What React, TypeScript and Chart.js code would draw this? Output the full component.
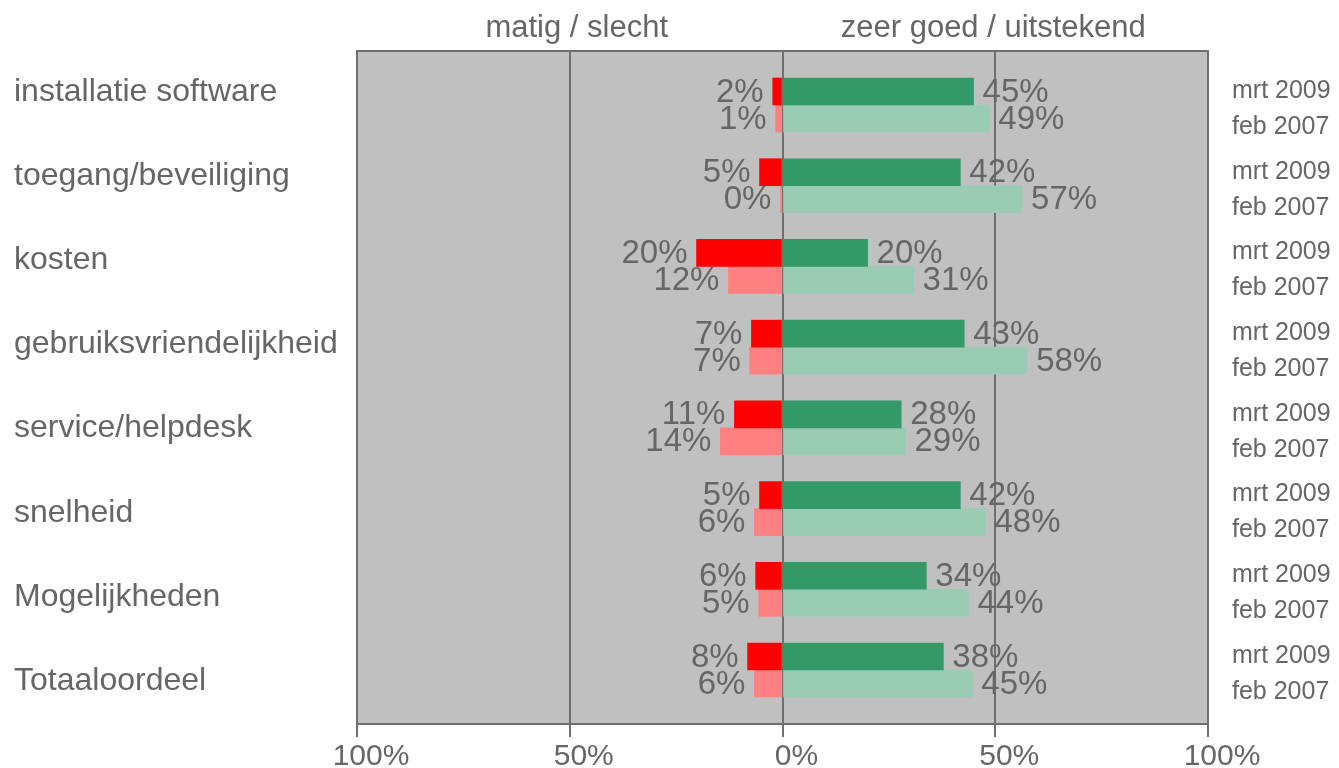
import React, { useEffect, useRef } from 'react';
import { Chart, registerables } from 'chart.js';

Chart.register(...registerables);

const categories = [
  'installatie software',
  'toegang/beveiliging',
  'kosten',
  'gebruiksvriendelijkheid',
  'service/helpdesk',
  'snelheid',
  'Mogelijkheden',
  'Totaaloordeel',
];
const periods = ['mrt 2009', 'feb 2007'];
const sideTitles = ['matig / slecht', 'zeer goed / uitstekend'];

// measured bar lengths (%)
const mrtBad = [2.3, 5.4, 20.2, 7.3, 11.3, 5.4, 6.3, 8.2];
const mrtGood = [44.9, 41.8, 20.0, 42.7, 27.9, 41.8, 33.8, 37.8];
const febBad = [1.6, 0.5, 12.7, 7.7, 14.6, 6.6, 5.6, 6.6];
const febGood = [48.6, 56.3, 30.8, 57.5, 28.9, 47.7, 43.7, 44.6];

// printed data labels (%)
const mrtBadLabels = [2, 5, 20, 7, 11, 5, 6, 8];
const mrtGoodLabels = [45, 42, 20, 43, 28, 42, 34, 38];
const febBadLabels = [1, 0, 12, 7, 14, 6, 5, 6];
const febGoodLabels = [49, 57, 31, 58, 29, 48, 44, 45];

const axisTicks = [-100, -50, 0, 50, 100];

const FONT = "'Liberation Sans', Arial, sans-serif";
const TEXT = '#666666';
const LINE = '#6f6f6f';
const Y_MIN = -0.669;
const Y_MAX = 7.669;

export default function App() {
  const ref = useRef<HTMLCanvasElement | null>(null);

  useEffect(() => {
    if (!ref.current) return;
    const mk = (vals: number[], neg: boolean) =>
      vals.map((v, i) => ({ x: neg ? -v : v, y: i }));

    const labelSets = [mrtBadLabels, mrtGoodLabels, febBadLabels, febGoodLabels];

    const overlay = {
      id: 'overlay',
      beforeDraw(chart: any) {
        const { ctx, chartArea: a } = chart;
        ctx.save();
        ctx.fillStyle = '#c0c0c0';
        ctx.fillRect(a.left, a.top, a.right - a.left, a.bottom - a.top);
        ctx.restore();
      },
      afterDraw(chart: any) {
        const { ctx, chartArea: a } = chart;
        const xs = chart.scales.x;
        const ys = chart.scales.y;
        ctx.save();
        ctx.strokeStyle = LINE;
        ctx.lineWidth = 2;
        ctx.strokeRect(a.left, a.top, a.right - a.left, a.bottom - a.top);

        // value labels
        ctx.fillStyle = TEXT;
        ctx.font = `33px ${FONT}`;
        ctx.textBaseline = 'middle';
        chart.data.datasets.forEach((ds: any, di: number) => {
          const meta = chart.getDatasetMeta(di);
          const neg = di % 2 === 0;
          meta.data.forEach((el: any, i: number) => {
            const txt = labelSets[di][i] + '%';
            ctx.textAlign = neg ? 'right' : 'left';
            ctx.fillText(txt, el.x + (neg ? -9 : 9), el.y + 1);
          });
        });

        // side titles
        ctx.font = `31px ${FONT}`;
        ctx.textAlign = 'center';
        ctx.fillText(sideTitles[0], xs.getPixelForValue(-50) + 7, 28);
        ctx.fillText(sideTitles[1], xs.getPixelForValue(50) - 2, 28);

        // period labels on the right
        ctx.font = `25px ${FONT}`;
        ctx.textAlign = 'left';
        categories.forEach((_, i) => {
          const c = ys.getPixelForValue(i);
          ctx.fillText(periods[0], a.right + 24, c - 14);
          ctx.fillText(periods[1], a.right + 24, c + 22);
        });
        ctx.restore();
      },
    };

    const chart = new Chart(ref.current, {
      type: 'bar',
      data: {
        datasets: [
          { label: periods[0], data: mk(mrtBad, true), backgroundColor: '#ff0000', stack: 'mrt' },
          { label: periods[0], data: mk(mrtGood, false), backgroundColor: '#339966', stack: 'mrt' },
          { label: periods[1], data: mk(febBad, true), backgroundColor: '#ff8080', stack: 'feb' },
          { label: periods[1], data: mk(febGood, false), backgroundColor: '#99ccb3', stack: 'feb' },
        ] as any,
      },
      options: {
        indexAxis: 'y',
        animation: false,
        responsive: false,
        barThickness: 27,
        layout: { padding: { top: 51, right: 131, bottom: 0, left: 14 } },
        plugins: { legend: { display: false }, tooltip: { enabled: false } },
        scales: {
          x: {
            type: 'linear',
            position: 'bottom',
            min: -100,
            max: 100,
            stacked: true,
            z: 1,
            afterBuildTicks: (s: any) => {
              s.ticks = axisTicks.map((v) => ({ value: v }));
            },
            afterFit: (s: any) => {
              s.height = 44;
            },
            ticks: {
              callback: (v: any) => Math.abs(Number(v)) + '%',
              color: TEXT,
              font: { family: FONT, size: 30 },
              padding: 2,
              maxRotation: 0,
              labelOffset: 14,
            },
            grid: { color: LINE, lineWidth: 2, tickLength: 13, drawTicks: true },
            border: { display: true, color: LINE, width: 2 },
          },
          y: {
            type: 'linear',
            display: false,
            offset: false,
            bounds: 'data',
            min: Y_MIN,
            max: Y_MAX,
            reverse: true,
            afterBuildTicks: (s: any) => {
              s.min = Y_MIN;
              s.max = Y_MAX;
              s.ticks = [{ value: Y_MIN }, { value: Y_MAX }];
            },
          },
          yl: {
            type: 'category',
            axis: 'y',
            position: 'left',
            labels: categories,
            offset: true,
            afterFit: (s: any) => {
              s.width = 343;
            },
            grid: { display: false },
            border: { display: false },
            ticks: {
              color: TEXT,
              font: { family: FONT, size: 32 },
              crossAlign: 'far',
              padding: 0,
              labelOffset: -1,
              autoSkip: false,
            },
          },
        } as any,
      } as any,
      plugins: [overlay],
    });
    return () => chart.destroy();
  }, []);

  return (
    <div style={{ position: 'absolute', left: 0, top: 0, width: 1339, height: 768 }}>
      <canvas ref={ref} width={1339} height={768} />
    </div>
  );
}
